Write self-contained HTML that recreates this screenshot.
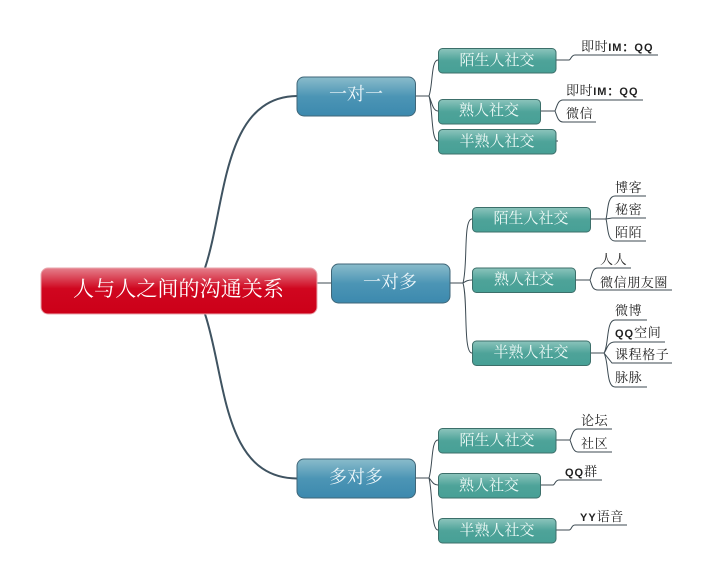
<!DOCTYPE html>
<html>
<head>
<meta charset="utf-8">
<style>
html,body{margin:0;padding:0;background:#fff;width:711px;height:581px;overflow:hidden}
svg{display:block}
text{font-family:"Liberation Serif","Noto Serif CJK SC",serif}
.r{fill:#fff;font-size:21px;text-anchor:middle;letter-spacing:.1px}
.b{fill:#eef7fa;font-size:18px;text-anchor:middle}
.t{fill:#eefaf7;font-size:15px;text-anchor:middle}
.l{fill:#222;font-size:13px;letter-spacing:.6px}
.lm{font-family:"Liberation Sans","Noto Sans CJK SC",sans-serif;fill:#222;font-size:11px;font-weight:bold;letter-spacing:1px}
.c{fill:none;stroke:#3c4a52;stroke-width:1}
.m{fill:none;stroke:#3f5361;stroke-width:2}
</style>
</head>
<body>
<svg width="711" height="581" viewBox="0 0 711 581" xmlns="http://www.w3.org/2000/svg">
<defs>
<linearGradient id="gr" x1="0" y1="0" x2="0" y2="1"><stop offset="0" stop-color="#e5808c"/><stop offset=".45" stop-color="#d0061f"/><stop offset="1" stop-color="#cc0018"/></linearGradient>
<linearGradient id="gb" x1="0" y1="0" x2="0" y2="1"><stop offset="0" stop-color="#8abccb"/><stop offset=".5" stop-color="#4c95b5"/><stop offset="1" stop-color="#3c89ae"/></linearGradient>
<linearGradient id="gt" x1="0" y1="0" x2="0" y2="1"><stop offset="0" stop-color="#8cc4bc"/><stop offset=".5" stop-color="#4ea399"/><stop offset="1" stop-color="#47a096"/></linearGradient>
</defs>

<!-- main connectors -->
<path class="m" d="M205,268 C226,205 222,97 297,96"/>
<path class="m" d="M205,314 C226,377 222,478 297,478.500"/>
<path class="c" d="M317,283H331"/>

<!-- level 2 connectors -->
<path class="c" d="M415,96H429 M429,96 C433,85 431,60 438,60 M429,96 C432,103 433,111 438,111 M429,96 C433,110 431,141 438,141"/>
<path class="c" d="M450,283H463 M463,283 C468,265 463,219 472,219 M463,283 C466,281 468,280 472,280 M463,283 C468,300 463,353 472,353"/>
<path class="c" d="M415,478H429 M429,478 C433,465 431,440 438,440 M429,478 C432,481 433,485 438,485 M429,478 C433,495 431,530 438,530"/>

<!-- level 3 connectors -->
<path class="c" d="M556,60H569 C571,60 571,55 575,55H658"/>
<path class="c" d="M540,111H555 C557,106 558,100 563,100H643 M555,111 C557,116 558,122 563,122H596"/>
<path class="c" d="M556,141H558"/>

<path class="c" d="M591,219H606 C608,212 607,196 615,196H646 M606,219 L612,218H646 M606,219 C608,226 607,241 615,241H646"/>
<path class="c" d="M576,280H590 C592,275 592,268 598,268H631 M590,280 C592,285 592,290 598,290H672"/>
<path class="c" d="M591,353H604 C609,345 606,320 615,320H647 M604,353 C607,350 607,342 615,342H665 M604,353 L612,363H672 M604,353 C609,362 606,387 615,387H647"/>

<path class="c" d="M556,440H570 C572,435 573,429 578,429H612 M570,440 C572,445 573,452 578,452H612"/>
<path class="c" d="M540,485H553 C555,485 555,480 559,480H602"/>
<path class="c" d="M556,530H569 C572,530 571,525 575,525H627"/>

<!-- root -->
<rect x="41" y="268" width="276" height="46" rx="7" fill="url(#gr)" stroke="#e9a7ae" stroke-width="1"/>
<text class="r" x="178.500" y="296">人与人之间的沟通关系</text>

<!-- blue nodes -->
<rect x="297" y="77" width="118.500" height="39" rx="7" fill="url(#gb)" stroke="#3f6678"/>
<text class="b" x="356" y="100">一对一</text>
<rect x="331.500" y="264" width="118.500" height="39" rx="7" fill="url(#gb)" stroke="#3f6678"/>
<text class="b" x="390" y="288">一对多</text>
<rect x="297" y="459" width="118.500" height="39" rx="7" fill="url(#gb)" stroke="#3f6678"/>
<text class="b" x="356" y="483">多对多</text>

<!-- teal nodes -->
<g>
<rect x="438.500" y="48.500" width="117.500" height="24.500" rx="4" fill="url(#gt)" stroke="#3c6f6a"/>
<text class="t" x="497" y="65">陌生人社交</text>
<rect x="438.500" y="99.500" width="102" height="24.500" rx="4" fill="url(#gt)" stroke="#3c6f6a"/>
<text class="t" x="489" y="115">熟人社交</text>
<rect x="438.500" y="129.500" width="117.500" height="24.500" rx="4" fill="url(#gt)" stroke="#3c6f6a"/>
<text class="t" x="497" y="146">半熟人社交</text>

<rect x="472.500" y="207.500" width="118" height="24.500" rx="4" fill="url(#gt)" stroke="#3c6f6a"/>
<text class="t" x="531" y="223">陌生人社交</text>
<rect x="472.500" y="268" width="103" height="24.500" rx="4" fill="url(#gt)" stroke="#3c6f6a"/>
<text class="t" x="524" y="284">熟人社交</text>
<rect x="472.500" y="341" width="118" height="24.500" rx="4" fill="url(#gt)" stroke="#3c6f6a"/>
<text class="t" x="531" y="357">半熟人社交</text>

<rect x="438.500" y="428.500" width="117.500" height="24.500" rx="4" fill="url(#gt)" stroke="#3c6f6a"/>
<text class="t" x="497" y="445">陌生人社交</text>
<rect x="438.500" y="473.500" width="102" height="24.500" rx="4" fill="url(#gt)" stroke="#3c6f6a"/>
<text class="t" x="489" y="490">熟人社交</text>
<rect x="438.500" y="518.500" width="117.500" height="24.500" rx="4" fill="url(#gt)" stroke="#3c6f6a"/>
<text class="t" x="497" y="535">半熟人社交</text>
</g>

<!-- leaf labels -->
<text class="l" x="581" y="51">即时<tspan class="lm">IM：QQ</tspan></text>
<text class="l" x="566" y="95">即时<tspan class="lm">IM：QQ</tspan></text>
<text class="l" x="566" y="118">微信</text>

<text class="l" x="615" y="192">博客</text>
<text class="l" x="615" y="214">秘密</text>
<text class="l" x="615" y="237">陌陌</text>
<text class="l" x="600" y="264">人人</text>
<text class="l" x="600" y="287">微信朋友圈</text>
<text class="l" x="615" y="315">微博</text>
<text class="l" x="615" y="337"><tspan class="lm">QQ</tspan>空间</text>
<text class="l" x="615" y="359">课程格子</text>
<text class="l" x="615" y="382">脉脉</text>

<text class="l" x="581" y="425">论坛</text>
<text class="l" x="581" y="448">社区</text>
<text class="l" x="565" y="476"><tspan class="lm">QQ</tspan>群</text>
<text class="l" x="580" y="521"><tspan class="lm">YY</tspan>语音</text>
</svg>
</body>
</html>
